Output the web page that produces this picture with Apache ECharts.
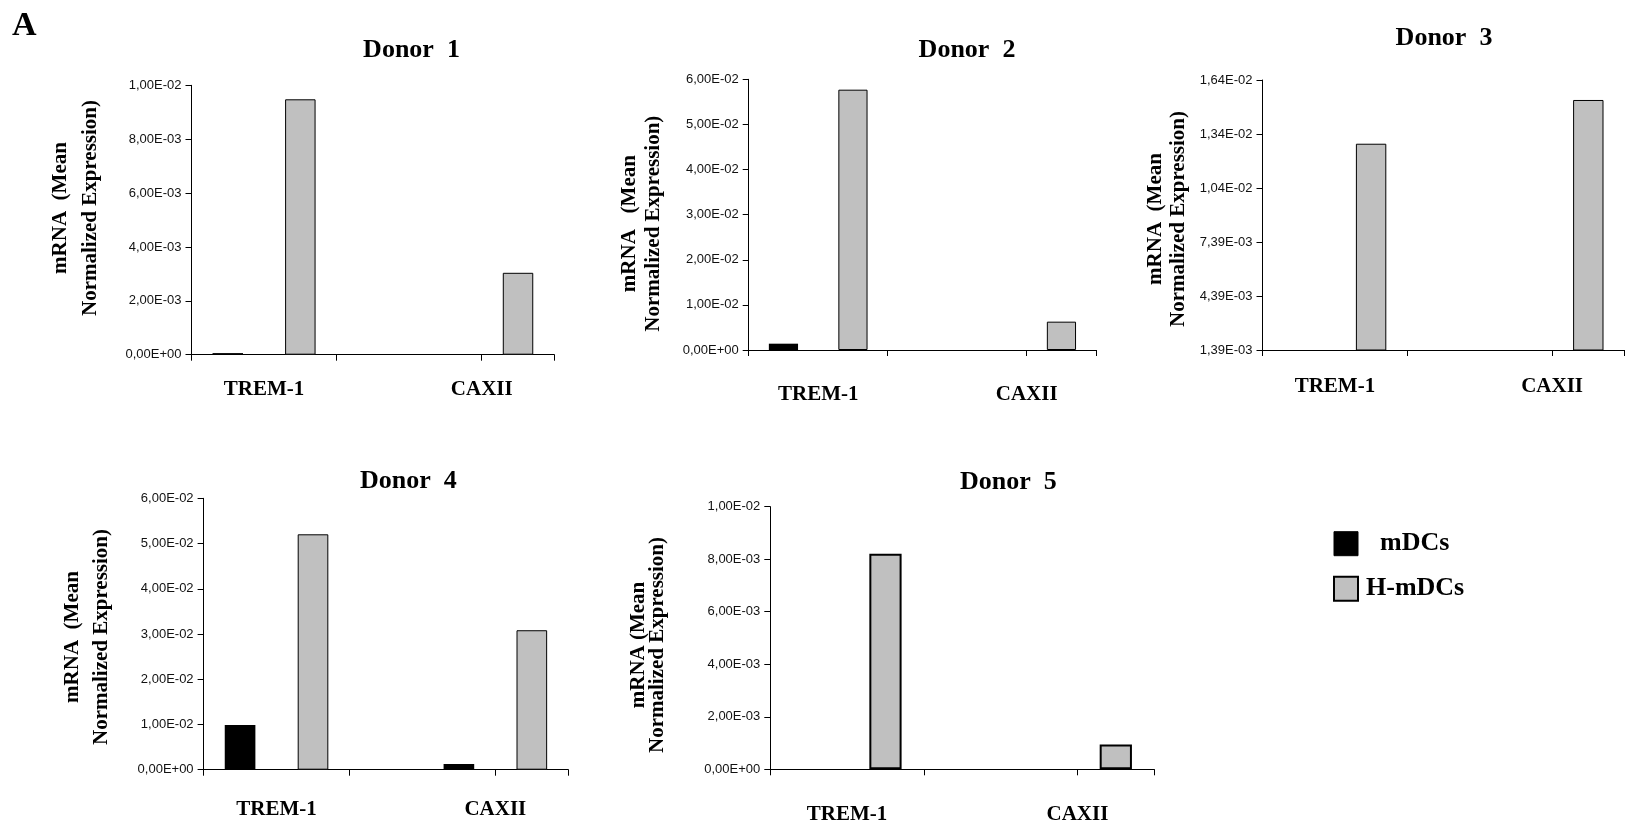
<!DOCTYPE html>
<html><head><meta charset="utf-8">
<script src="https://cdn.jsdelivr.net/npm/echarts@6/dist/echarts.min.js"></script>
<style>html,body{margin:0;padding:0;background:#fff}#c{width:1633px;height:829px}</style>
</head><body><div id="c"></div>
<script>
// ---------- data ----------
const categories = ['TREM-1', 'CAXII'];
const seriesNames = ['mDCs', 'H-mDCs'];
const donorTitles = ['Donor  1', 'Donor  2', 'Donor  3', 'Donor  4', 'Donor  5'];
const yAxisNames = [
  'mRNA  (Mean\nNormalized Expression)',
  'mRNA   (Mean\nNormalized Expression)',
  'mRNA  (Mean\nNormalized Expression)',
  'mRNA  (Mean\nNormalized Expression)',
  'mRNA (Mean\nNormalized Expression)'
];
const donor1_mDCs = [0.00006, 0];
const donor1_HmDCs = [0.00948, 0.00304];
const donor2_mDCs = [0.0014, 0];
const donor2_HmDCs = [0.0577, 0.00628];
const donor3_mDCs = [0, 0];
const donor3_HmDCs = [0.01285, 0.01528];
const donor4_mDCs = [0.00988, 0.00126];
const donor4_HmDCs = [0.05204, 0.03083];
const donor5_mDCs = [0, 0];
const donor5_HmDCs = [0.00821, 0.00094];
const donor1_yTicks = [0, 0.002, 0.004, 0.006, 0.008, 0.01];
const donor2_yTicks = [0, 0.01, 0.02, 0.03, 0.04, 0.05, 0.06];
const donor3_yTicks = [0.00139, 0.00439, 0.00739, 0.01039, 0.01339, 0.01639];
const donor4_yTicks = [0, 0.01, 0.02, 0.03, 0.04, 0.05, 0.06];
const donor5_yTicks = [0, 0.002, 0.004, 0.006, 0.008, 0.01];

const donorData = [
  [donor1_mDCs, donor1_HmDCs, donor1_yTicks],
  [donor2_mDCs, donor2_HmDCs, donor2_yTicks],
  [donor3_mDCs, donor3_HmDCs, donor3_yTicks],
  [donor4_mDCs, donor4_HmDCs, donor4_yTicks],
  [donor5_mDCs, donor5_HmDCs, donor5_yTicks]
];

// ---------- layout (pixels) ----------
const layout = [
  {left:191.5, top:85.3, width:362.8, height:269.4, tx:411.5, ty:37,   gap:86,  lh:30,   shift:-12, lm:24.8, bw:1, custom:false},
  {left:748.7, top:79.3, width:347.5, height:270.7, tx:967,   ty:37.7, gap:83,  lh:24,   shift:9,   lm:34.5, bw:1, custom:false},
  {left:1262.5,top:80,   width:362,   height:270,   tx:1444,  ty:25,   gap:72,  lh:23,   shift:4,   lm:26.2, bw:1, custom:true},
  {left:203.6, top:498.3,width:364.7, height:271.4, tx:408.3, ty:468.7,gap:88,  lh:28.7, shift:3,   lm:29.8, bw:1, custom:false},
  {left:770.3, top:506.7,width:383.9, height:262.6, tx:1008.3,ty:469.3,gap:103, lh:19,   shift:7,   lm:35.2, bw:2, custom:false}
];

const SERIF = "'Liberation Serif', 'Times New Roman', serif";
const SANS = "'Liberation Sans', Arial, sans-serif";

function sci(v) {
  const s = Number(v).toExponential(2);
  const parts = s.split('e');
  let exp = parts[1];
  const sign = exp[0] === '-' ? '-' : '+';
  exp = exp.replace(/^[+-]/, '');
  if (exp.length < 2) exp = '0' + exp;
  return parts[0].replace('.', ',') + 'E' + sign + exp;
}

const barSlots = [categories[0] + ' mDCs', categories[0] + ' H-mDCs', ' ', categories[1] + ' mDCs', categories[1] + ' H-mDCs'];
const labelSlots = ['', categories[0], '', '', categories[1], ''];

const grids = [], xAxes = [], yAxes = [], series = [], titles = [];

titles.push({text:'A', left:12, top:9, padding:0, textStyle:{fontFamily:SERIF, fontWeight:'bold', fontSize:34, lineHeight:34, color:'#000'}});

donorData.forEach((d, i) => {
  const L = layout[i];
  const m = d[0], h = d[1], ticks = d[2];
  grids.push({left:L.left, top:L.top, width:L.width, height:L.height, containLabel:false});
  titles.push({text:donorTitles[i], left:L.tx, top:L.ty, textAlign:'center', padding:0,
    textStyle:{fontFamily:SERIF, fontWeight:'bold', fontSize:26, lineHeight:26, color:'#000'}});
  xAxes.push({type:'category', gridIndex:i, data:barSlots, position:'bottom',
    axisLine:{onZero:false, lineStyle:{color:'#000', width:1}},
    axisTick:{show:true, length:6, lineStyle:{color:'#000'}},
    axisLabel:{show:false}, splitLine:{show:false}});
  xAxes.push({type:'category', gridIndex:i, data:labelSlots, position:'bottom', boundaryGap:false,
    axisLine:{show:false}, axisTick:{show:false}, splitLine:{show:false},
    axisLabel:{show:true, interval:0, margin:L.lm, fontFamily:SERIF, fontWeight:'bold', fontSize:21, lineHeight:21, color:'#000'}});
  const pad = L.shift < 0 ? [0, 0, 0, -2 * L.shift] : [0, 2 * L.shift, 0, 0];
  const yAx = {type:'value', gridIndex:i, min:ticks[0], max:ticks[ticks.length - 1],
    name:yAxisNames[i], nameLocation:'middle', nameRotate:90, nameGap:L.gap,
    nameTextStyle:{fontFamily:SERIF, fontWeight:'bold', fontSize:21, lineHeight:L.lh, color:'#000', padding:pad},
    axisLine:{show:true, onZero:false, lineStyle:{color:'#000', width:1}},
    axisTick:{show:true, length:6, lineStyle:{color:'#000'}},
    axisLabel:{margin:10, fontFamily:SANS, fontSize:13, color:'#111', formatter:sci},
    splitLine:{show:false}};
  if (L.custom) {
    yAx.axisTick.customValues = ticks;
    yAx.axisLabel.customValues = ticks;
  } else {
    yAx.interval = ticks[1] - ticks[0];
  }
  yAxes.push(yAx);
  series.push({name:seriesNames[0], type:'bar', xAxisIndex:2 * i, yAxisIndex:i, stack:'s' + i, barWidth:'42%', clip:true,
    data:[m[0], '-', '-', m[1], '-'],
    itemStyle:{color:'#000', borderWidth:0}, emphasis:{disabled:true}});
  series.push({name:seriesNames[1], type:'bar', xAxisIndex:2 * i, yAxisIndex:i, stack:'s' + i, barWidth:'42%', clip:true,
    data:['-', h[0], '-', '-', h[1]],
    itemStyle:{color:'#C0C0C0', borderColor:'#000', borderWidth:L.bw}, emphasis:{disabled:true}});
});

const chart = echarts.init(document.getElementById('c'), null, {renderer:'canvas'});
chart.setOption({
  backgroundColor:'#fff',
  animation:false,
  title:titles,
  grid:grids,
  xAxis:xAxes,
  yAxis:yAxes,
  series:series,
  tooltip:{show:false},
  legend:{orient:'vertical', left:1333, top:530.7, padding:0, itemWidth:24, itemHeight:24, itemGap:19, icon:'rect',
    selectedMode:false,
    textStyle:{fontFamily:SERIF, fontWeight:'bold', fontSize:26, lineHeight:24, color:'#000'},
    data:[{name:seriesNames[0], itemStyle:{borderColor:'#000', borderWidth:1}, textStyle:{padding:[0,0,0,17]}},
          {name:seriesNames[1], itemStyle:{borderColor:'#000', borderWidth:2}, textStyle:{padding:[0,0,0,3]}}]}
});
</script>
</body></html>
